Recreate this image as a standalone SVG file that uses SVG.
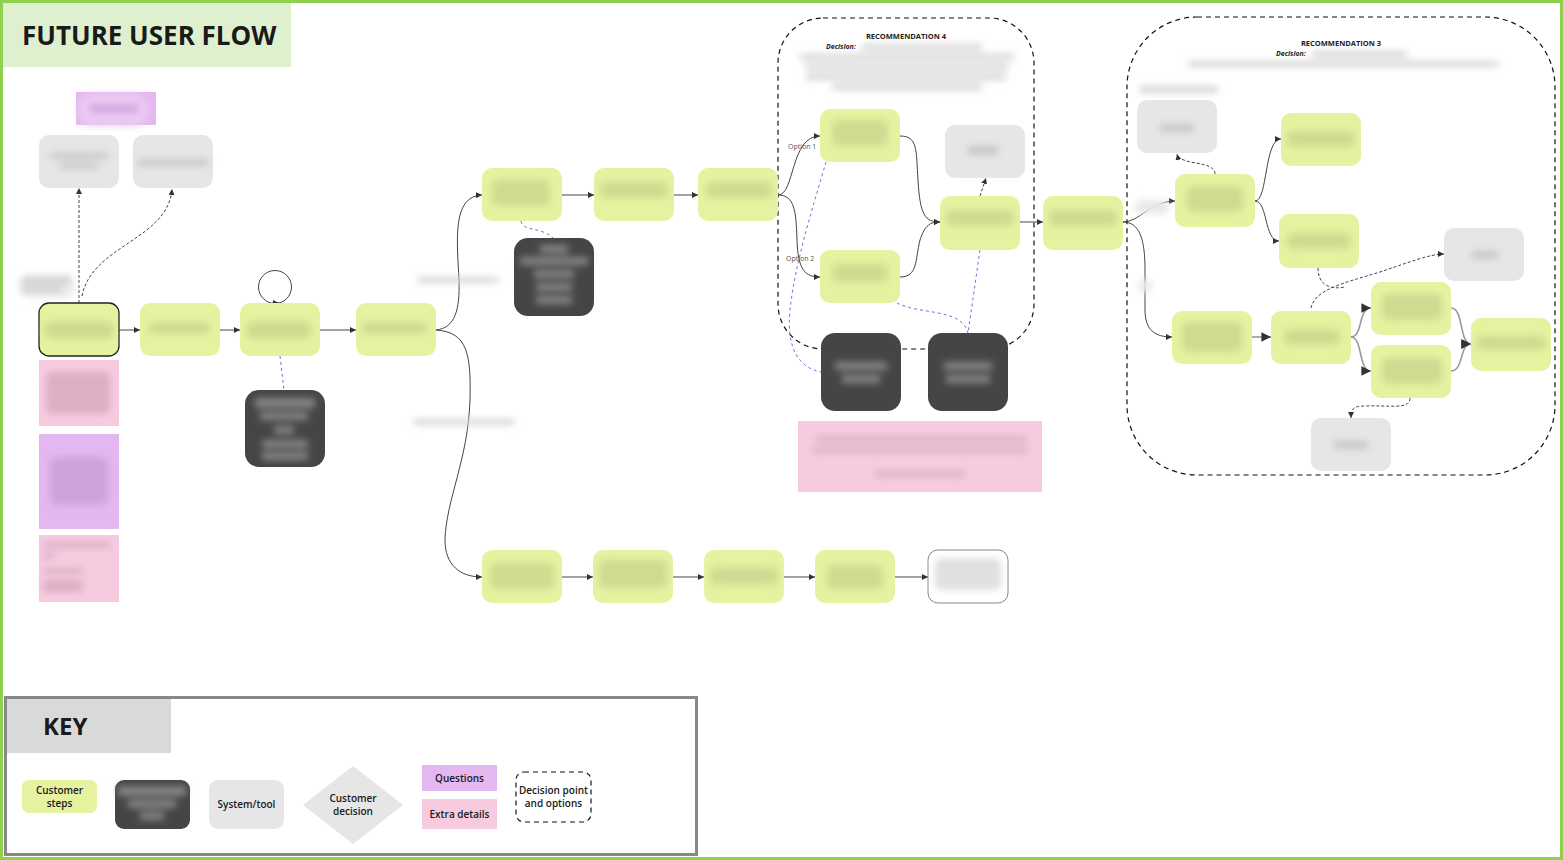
<svg xmlns="http://www.w3.org/2000/svg" width="1563" height="860" viewBox="0 0 1563 860">
<defs>
<style>
.step{fill:#e6f2a0}
.sys{fill:#e6e6e6}
.dark{fill:#454545}
.pink{fill:#f6cbe0}
.purp{fill:#e5b7f0}
.bl{filter:url(#blur)}
.bs{fill:#cfdb90}
.bd{fill:#858585}
.bg{fill:#c8c8c8}
.bt{fill:#d6d6d6}
.bp{fill:#dcafc4}
.bq{fill:#cfa2dc}
.c{fill:none;stroke:#444;stroke-width:1}
.cg{fill:none;stroke:#999;stroke-width:1.6}
.dsh{fill:none;stroke:#444;stroke-width:1;stroke-dasharray:3 2}
.blue{fill:none;stroke:#6a78d8;stroke-width:1;stroke-dasharray:3 3}
.box{fill:none;stroke:#111;stroke-width:1.2;stroke-dasharray:5 4}
.t{font-family:'Open Sans','Liberation Sans',sans-serif;fill:#1a1a1a}
.k{font-size:10px;font-weight:600;text-anchor:middle}
.rec{font-size:7.5px;font-weight:700;text-anchor:middle}
.dec{font-size:7px;font-weight:700;font-style:italic}
.opt{font-size:7px;fill:#555}
</style>
<filter id="blur" x="-30%" y="-80%" width="160%" height="260%"><feGaussianBlur stdDeviation="3.5"/></filter>
<marker id="ar" viewBox="0 0 6 6" refX="6" refY="3" markerWidth="6" markerHeight="6" orient="auto"><path d="M0,0 L6,3 L0,6 z" fill="#333"/></marker>
</defs>

<rect x="1.5" y="1.5" width="1560" height="857" fill="#fff" stroke="#8fd14f" stroke-width="3"/>

<g id="title">
<rect x="3" y="3" width="288" height="64" fill="#dff0cf"/>
<text class="t" x="22" y="45" font-size="26" font-weight="700">FUTURE USER FLOW</text>
</g>

<g id="rec4">
<rect class="box" x="778" y="18" width="256" height="331" rx="45"/>
<text class="t rec" x="906" y="39">RECOMMENDATION 4</text>
<text class="t dec" x="826" y="49">Decision:</text>
<g class="bl"><rect class="bt" x="862" y="44" width="120" height="6"/><rect class="bt" x="800" y="54" width="214" height="6"/><rect class="bt" x="806" y="64" width="202" height="6"/><rect class="bt" x="806" y="74" width="200" height="6"/><rect class="bt" x="832" y="84" width="150" height="6"/></g>
</g>
<g id="rec3">
<rect class="box" x="1127" y="17" width="428" height="458" rx="70"/>
<text class="t rec" x="1341" y="46">RECOMMENDATION 3</text>
<text class="t dec" x="1276" y="56">Decision:</text>
<g class="bl"><rect class="bt" x="1312" y="51" width="95" height="6"/><rect class="bt" x="1188" y="61" width="310" height="6"/><rect class="bt" x="1140" y="86" width="78" height="7"/></g>
</g>

<g id="connectors">
<path class="dsh" d="M79,303 L79,188" marker-end="url(#ar)"/>
<path class="dsh" d="M82,296 C92,245 168,240 172,189" marker-end="url(#ar)"/>
<path class="c" d="M119,330 L140,330" marker-end="url(#ar)"/>
<path class="c" d="M220,330 L240,330" marker-end="url(#ar)"/>
<path class="c" d="M320,330 L356,330" marker-end="url(#ar)"/>
<circle class="c" cx="275" cy="287" r="16.5"/>
<path class="c" d="M272,303 L279,303" marker-end="url(#ar)"/>
<path class="blue" d="M280,356 L284,390"/>
<path class="c" d="M436,330 C455,328 460,310 459,280 C457,240 452,196 482,195" marker-end="url(#ar)"/>
<path class="c" d="M436,330 C468,332 471,355 470,400 C468,460 446,500 445,540 C445,565 460,577 482,577" marker-end="url(#ar)"/>
<path class="c" d="M562,195 L594,195" marker-end="url(#ar)"/>
<path class="c" d="M674,195 L698,195" marker-end="url(#ar)"/>
<path class="blue" d="M521,221 C523,232 540,226 553,238"/>
<path class="c" d="M562,577 L593,577" marker-end="url(#ar)"/>
<path class="c" d="M673,577 L704,577" marker-end="url(#ar)"/>
<path class="c" d="M784,577 L815,577" marker-end="url(#ar)"/>
<path class="c" d="M895,577 L928,577" marker-end="url(#ar)"/>
<path class="c" d="M778,195 C795,195 790,136 820,136" marker-end="url(#ar)"/>
<path class="c" d="M778,195 C795,195 796,212 797,240 C798,270 805,277 820,277" marker-end="url(#ar)"/>
<path class="c" d="M900,136 C918,136 916,150 918,180 C920,215 925,222 940,222" marker-end="url(#ar)"/>
<path class="c" d="M900,277 C918,277 915,260 920,240 C925,225 930,222 940,222" marker-end="url(#ar)"/>
<path class="dsh" d="M980,196 L986,178" marker-end="url(#ar)"/>
<path class="c" d="M1020,222 L1043,222" marker-end="url(#ar)"/>
<path class="blue" d="M826,162 C815,200 795,262 790,310 C786,350 800,368 821,372"/>
<path class="blue" d="M980,250 L968,333"/>
<path class="blue" d="M897,303 C920,315 962,308 968,333"/>
<path class="c" d="M1123,222 C1140,222 1150,201 1175,201" marker-end="url(#ar)"/>
<path class="c" d="M1123,222 C1140,222 1145,240 1145,270 L1145,310 C1145,330 1155,337 1172,337" marker-end="url(#ar)"/>
<path class="c" d="M1255,201 C1268,201 1264,139 1281,139" marker-end="url(#ar)"/>
<path class="c" d="M1255,201 C1268,201 1264,241 1279,241" marker-end="url(#ar)"/>
<path class="dsh" d="M1215,174 C1215,160 1180,166 1177,154" marker-end="url(#ar)"/>
<path class="dsh" d="M1311,308 C1315,290 1340,284 1380,272 C1410,262 1430,254 1444,254" marker-end="url(#ar)"/>
<path class="dsh" d="M1318,268 C1318,285 1330,290 1345,287"/>
<path class="cg" d="M1252,337 L1271,337" marker-end="url(#ar)"/>
<path class="cg" d="M1351,337 C1363,337 1358,308 1371,308" marker-end="url(#ar)"/>
<path class="cg" d="M1351,337 C1363,337 1358,371 1371,371" marker-end="url(#ar)"/>
<path class="cg" d="M1451,308 C1464,308 1459,344 1471,344" marker-end="url(#ar)"/>
<path class="cg" d="M1451,371 C1464,371 1459,344 1471,344" marker-end="url(#ar)"/>
<path class="dsh" d="M1410,398 C1410,410 1390,405 1365,406 C1352,406 1351,410 1351,418" marker-end="url(#ar)"/>
<g class="bl"><rect fill="#e8e8e8" x="1135" y="200" width="34" height="14" rx="7"/><circle fill="#e8e8e8" cx="1145" cy="286" r="7"/><rect class="bt" x="418" y="277" width="80" height="6"/><rect class="bt" x="414" y="419" width="100" height="6"/></g>
<text class="t opt" x="788" y="149">Option 1</text>
<text class="t opt" x="786" y="261">Option 2</text>
</g>

<g id="q1"><rect class="purp" x="76" y="92" width="80" height="33"/><rect class="bl" fill="#ecc9f4" x="78" y="94" width="70" height="32" rx="14"/><rect class="bl bq" x="90" y="105" width="48" height="7"/></g>
<g id="s1"><rect class="sys" x="39" y="135" width="80" height="53" rx="10"/><g class="bl"><rect class="bg" x="50" y="153" width="58" height="6"/><rect class="bg" x="60" y="163" width="38" height="6"/></g></g>
<g id="s2"><rect class="sys" x="133" y="135" width="80" height="53" rx="10"/><rect class="bl bg" x="138" y="159" width="70" height="7"/></g>
<g id="lbl1"><rect class="bl" fill="#ececec" x="20" y="274" width="55" height="24" rx="10"/><g class="bl"><rect class="bg" x="22" y="278" width="48" height="5"/><rect class="bg" x="22" y="287" width="40" height="5"/></g></g>

<g id="n1"><rect class="step" x="39" y="303" width="80" height="53" rx="10" stroke="#222" stroke-width="1.3"/><rect class="bl bs" x="44" y="321" width="70" height="18" rx="8"/></g>
<g id="n2"><rect class="step" x="140" y="303" width="80" height="53" rx="10"/><rect class="bl bs" x="148" y="322" width="62" height="12" rx="6"/></g>
<g id="n3"><rect class="step" x="240" y="303" width="80" height="53" rx="10"/><rect class="bl bs" x="246" y="321" width="66" height="18" rx="8"/></g>
<g id="n4"><rect class="step" x="356" y="303" width="80" height="53" rx="10"/><rect class="bl bs" x="362" y="322" width="66" height="12" rx="6"/></g>
<g id="p1"><rect class="pink" x="39" y="360" width="80" height="66"/><rect class="bl bp" x="46" y="372" width="64" height="42" rx="6"/></g>
<g id="q2"><rect class="purp" x="39" y="434" width="80" height="95"/><rect class="bl bq" x="50" y="457" width="58" height="48" rx="6"/></g>
<g id="p2"><rect class="pink" x="39" y="535" width="80" height="67"/><g class="bl"><rect class="bp" x="43" y="542" width="68" height="6"/><rect class="bp" x="43" y="553" width="12" height="6"/><rect class="bp" x="43" y="568" width="40" height="6"/><rect class="bp" x="43" y="580" width="40" height="12"/></g></g>
<g id="d1"><rect class="dark" x="245" y="390" width="80" height="77" rx="14"/><g class="bl"><rect class="bd" x="255" y="398" width="60" height="10"/><rect class="bd" x="260" y="412" width="48" height="8"/><rect class="bd" x="274" y="426" width="20" height="8"/><rect class="bd" x="262" y="440" width="46" height="8"/><rect class="bd" x="262" y="452" width="46" height="8"/></g></g>

<g id="u1"><rect class="step" x="482" y="168" width="80" height="53" rx="10"/><rect class="bl bs" x="492" y="180" width="58" height="26" rx="6"/></g>
<g id="u2"><rect class="step" x="594" y="168" width="80" height="53" rx="10"/><rect class="bl bs" x="600" y="182" width="68" height="16" rx="6"/></g>
<g id="u3"><rect class="step" x="698" y="168" width="80" height="53" rx="10"/><rect class="bl bs" x="706" y="182" width="66" height="16" rx="6"/></g>
<g id="d2"><rect class="dark" x="514" y="238" width="80" height="78" rx="14"/><g class="bl"><rect class="bd" x="540" y="245" width="28" height="8"/><rect class="bd" x="520" y="257" width="68" height="8"/><rect class="bd" x="534" y="270" width="40" height="8"/><rect class="bd" x="536" y="283" width="36" height="8"/><rect class="bd" x="536" y="296" width="36" height="8"/></g></g>

<g id="r4a"><rect class="step" x="820" y="109" width="80" height="53" rx="10"/><rect class="bl bs" x="832" y="120" width="56" height="26" rx="6"/></g>
<g id="r4b"><rect class="step" x="820" y="250" width="80" height="53" rx="10"/><rect class="bl bs" x="832" y="264" width="56" height="18" rx="6"/></g>
<g id="r4s"><rect class="sys" x="945" y="125" width="80" height="53" rx="10"/><rect class="bl bg" x="968" y="146" width="30" height="9"/></g>
<g id="r4c"><rect class="step" x="940" y="196" width="80" height="54" rx="10"/><rect class="bl bs" x="946" y="210" width="68" height="16" rx="6"/></g>
<g id="r5"><rect class="step" x="1043" y="196" width="80" height="54" rx="10"/><rect class="bl bs" x="1049" y="210" width="68" height="16" rx="6"/></g>
<g id="d3"><rect class="dark" x="821" y="333" width="80" height="78" rx="14"/><g class="bl"><rect class="bd" x="835" y="362" width="52" height="8"/><rect class="bd" x="842" y="375" width="38" height="8"/></g></g>
<g id="d4"><rect class="dark" x="928" y="333" width="80" height="78" rx="14"/><g class="bl"><rect class="bd" x="944" y="362" width="48" height="8"/><rect class="bd" x="946" y="375" width="44" height="8"/></g></g>
<g id="p3"><rect class="pink" x="798" y="421" width="244" height="71"/><g class="bl"><rect class="bp" x="815" y="436" width="212" height="6"/><rect class="bp" x="812" y="447" width="216" height="6"/><rect class="bp" x="875" y="471" width="90" height="6"/></g></g>

<g id="b1"><rect class="step" x="482" y="550" width="80" height="53" rx="10"/><rect class="bl bs" x="490" y="563" width="64" height="26" rx="6"/></g>
<g id="b2"><rect class="step" x="593" y="550" width="80" height="53" rx="10"/><rect class="bl bs" x="599" y="560" width="68" height="28" rx="6"/></g>
<g id="b3"><rect class="step" x="704" y="550" width="80" height="53" rx="10"/><rect class="bl bs" x="710" y="567" width="68" height="18" rx="6"/></g>
<g id="b4"><rect class="step" x="815" y="550" width="80" height="53" rx="10"/><rect class="bl bs" x="827" y="565" width="56" height="24" rx="6"/></g>
<g id="b5"><rect x="928" y="550" width="80" height="53" rx="10" fill="#fff" stroke="#888" stroke-width="1"/><rect class="bl" fill="#e0e0e0" x="935" y="558" width="66" height="32" rx="6"/></g>

<g id="r3s1"><rect class="sys" x="1137" y="100" width="80" height="53" rx="10"/><rect class="bl bg" x="1160" y="124" width="34" height="8"/></g>
<g id="r3c1"><rect class="step" x="1175" y="174" width="80" height="53" rx="10"/><rect class="bl bs" x="1187" y="186" width="56" height="26" rx="6"/></g>
<g id="r3c2"><rect class="step" x="1281" y="113" width="80" height="53" rx="10"/><rect class="bl bs" x="1287" y="131" width="68" height="16" rx="6"/></g>
<g id="r3c3"><rect class="step" x="1279" y="214" width="80" height="54" rx="10"/><rect class="bl bs" x="1287" y="233" width="64" height="16" rx="6"/></g>
<g id="r3s2"><rect class="sys" x="1444" y="228" width="80" height="53" rx="10"/><rect class="bl bg" x="1472" y="251" width="26" height="8"/></g>
<g id="r3c4"><rect class="step" x="1172" y="311" width="80" height="53" rx="10"/><rect class="bl bs" x="1182" y="322" width="60" height="30" rx="6"/></g>
<g id="r3c5"><rect class="step" x="1271" y="311" width="80" height="53" rx="10"/><rect class="bl bs" x="1284" y="329" width="56" height="16" rx="6"/></g>
<g id="r3c6"><rect class="step" x="1371" y="282" width="80" height="53" rx="10"/><rect class="bl bs" x="1382" y="294" width="60" height="26" rx="6"/></g>
<g id="r3c7"><rect class="step" x="1371" y="345" width="80" height="53" rx="10"/><rect class="bl bs" x="1382" y="358" width="60" height="26" rx="6"/></g>
<g id="r3c8"><rect class="step" x="1471" y="318" width="80" height="53" rx="10"/><rect class="bl bs" x="1476" y="336" width="70" height="14" rx="6"/></g>
<g id="r3s3"><rect class="sys" x="1311" y="418" width="80" height="53" rx="10"/><rect class="bl bg" x="1334" y="441" width="34" height="8"/></g>

<g id="key">
<rect x="5.5" y="697.5" width="691" height="157" fill="#fff" stroke="#888" stroke-width="3"/>
<rect x="7" y="699" width="164" height="54" fill="#d9d9d9"/>
<text class="t" x="43" y="735" font-size="24" font-weight="700">KEY</text>
<g id="key-step"><rect class="step" x="22" y="780" width="75" height="33" rx="7"/><text class="t k" x="59.5" y="794">Customer</text><text class="t k" x="59.5" y="807">steps</text></g>
<g id="key-dark"><rect class="dark" x="115" y="780" width="75" height="49" rx="9"/><g class="bl"><rect class="bd" x="118" y="786" width="68" height="10"/><rect class="bd" x="128" y="800" width="48" height="8"/><rect class="bd" x="140" y="812" width="24" height="8"/></g></g>
<g id="key-sys"><rect class="sys" x="209" y="780" width="75" height="49" rx="9"/><text class="t k" x="246.5" y="808">System/tool</text></g>
<g id="key-decision"><path class="sys" d="M353,766 L403,805 L353,844 L303,805 z"/><text class="t k" x="353" y="802">Customer</text><text class="t k" x="353" y="815">decision</text></g>
<g id="key-q"><rect class="purp" x="422" y="765" width="75" height="26"/><text class="t k" x="459.5" y="782">Questions</text></g>
<g id="key-extra"><rect class="pink" x="422" y="799" width="75" height="30"/><text class="t k" x="459.5" y="818">Extra details</text></g>
<g id="key-dp"><rect class="box" x="516" y="772" width="75" height="50" rx="8" stroke-width="1"/><text class="t k" x="553.5" y="794">Decision point</text><text class="t k" x="553.5" y="807">and options</text></g>
</g>
</svg>
